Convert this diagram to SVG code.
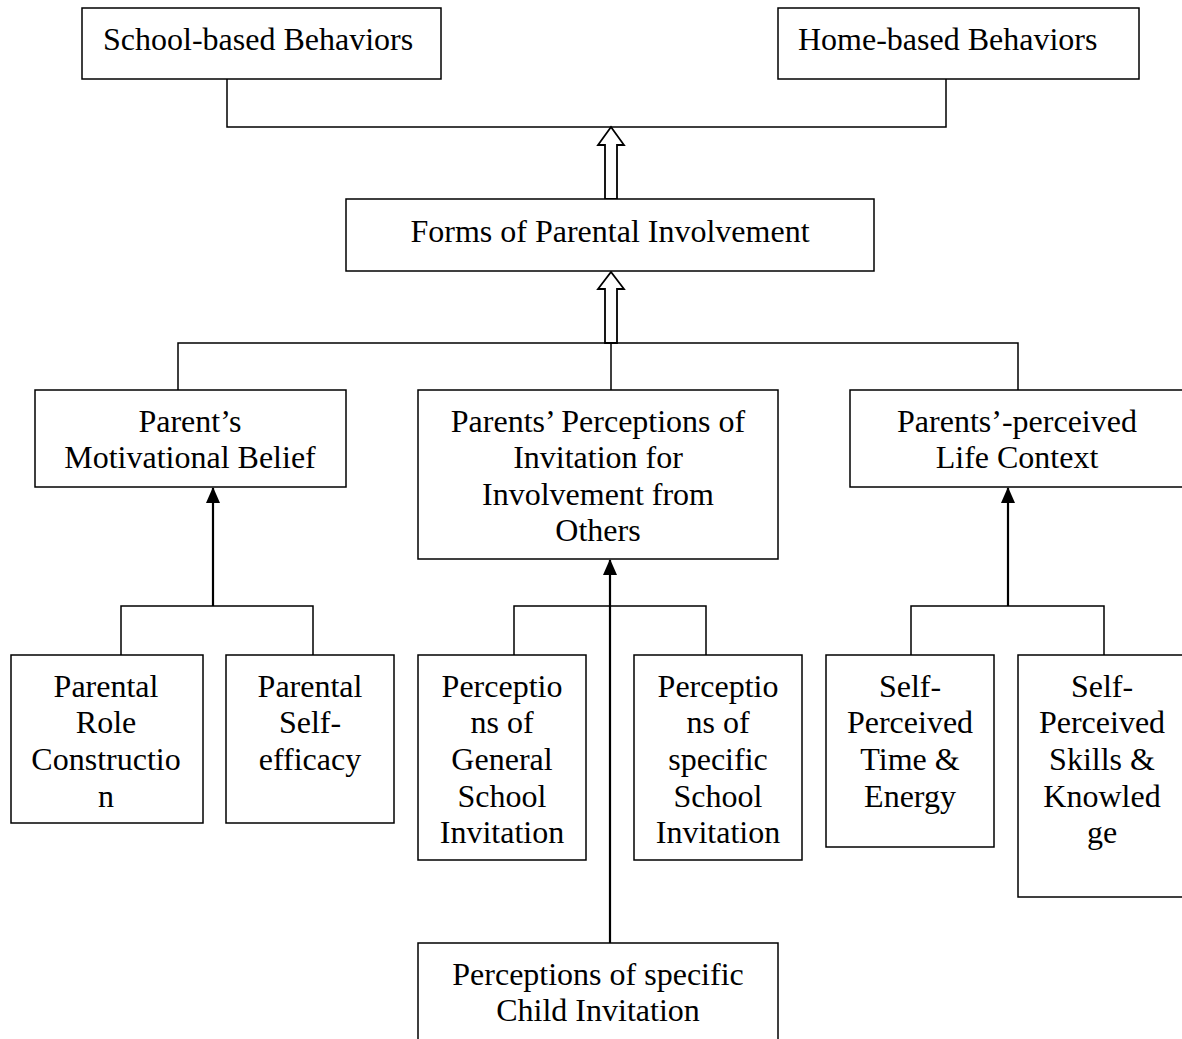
<svg xmlns="http://www.w3.org/2000/svg" width="1182" height="1039" viewBox="0 0 1182 1039">
<style>
.box{fill:#fff;stroke:#000;stroke-width:1.5}
.ln{fill:none;stroke:#000;stroke-width:1.5}
.ar{fill:none;stroke:#000;stroke-width:2.2}
.hol{fill:#fff;stroke:#000;stroke-width:1.8;stroke-linejoin:miter}
text{font-family:"Liberation Serif","Times New Roman",serif;font-size:32px;fill:#000}
.c{text-anchor:middle}
</style>
<defs>
<marker id="tri" markerWidth="16" markerHeight="14" viewBox="0 0 16 14" refX="15" refY="7" orient="auto" markerUnits="userSpaceOnUse">
<path d="M0,0 L16,7 L0,14 z" fill="#000"/>
</marker>
</defs>
<rect width="1182" height="1039" fill="#fff"/>
<g id="connectors">
<path class="ln" d="M227,79 V127 H946 V79"/>
<path class="hol" d="M605,199 V145 H598 L611,127 L624,145 H617 V199 Z"/>
<path class="ln" d="M178,390 V343 H1018 V390 M611,343 V390"/>
<path class="hol" d="M605,343 V289 H598 L611,272 L624,289 H617 V343 Z"/>
<path class="ln" d="M121,655 V606 H313 V655"/>
<path class="ar" d="M213,606 V488" marker-end="url(#tri)"/>
<path class="ln" d="M514,655 V606 H706 V655"/>
<path class="ar" d="M610,943 V560" marker-end="url(#tri)"/>
<path class="ln" d="M911,655 V606 H1104 V655"/>
<path class="ar" d="M1008,606 V488" marker-end="url(#tri)"/>
</g>
<g id="school">
<rect class="box" x="82" y="8" width="359" height="71"/>
<text x="103" y="50">School-based Behaviors</text>
</g>
<g id="home">
<rect class="box" x="778" y="8" width="361" height="71"/>
<text x="798" y="50">Home-based Behaviors</text>
</g>
<g id="forms">
<rect class="box" x="346" y="199" width="528" height="72"/>
<text class="c" x="610" y="242">Forms of Parental Involvement</text>
</g>
<g id="motivational">
<rect class="box" x="35" y="390" width="311" height="97"/>
<text class="c" x="190" y="432">Parent’s</text>
<text class="c" x="190" y="468">Motivational Belief</text>
</g>
<g id="invitation">
<rect class="box" x="418" y="390" width="360" height="169"/>
<text class="c" x="598" y="432">Parents’ Perceptions of</text>
<text class="c" x="598" y="468">Invitation for</text>
<text class="c" x="598" y="505">Involvement from</text>
<text class="c" x="598" y="541">Others</text>
</g>
<g id="lifecontext">
<rect class="box" x="850" y="390" width="336" height="97"/>
<text class="c" x="1017" y="432">Parents’-perceived</text>
<text class="c" x="1017" y="468">Life Context</text>
</g>
<g id="role">
<rect class="box" x="11" y="655" width="192" height="168"/>
<text class="c" x="106" y="697">Parental</text>
<text class="c" x="106" y="733">Role</text>
<text class="c" x="106" y="770">Constructio</text>
<text class="c" x="106" y="807">n</text>
</g>
<g id="selfefficacy">
<rect class="box" x="226" y="655" width="168" height="168"/>
<text class="c" x="310" y="697">Parental</text>
<text class="c" x="310" y="733">Self-</text>
<text class="c" x="310" y="770">efficacy</text>
</g>
<g id="general">
<rect class="box" x="418" y="655" width="168" height="205"/>
<text class="c" x="502" y="697">Perceptio</text>
<text class="c" x="502" y="733">ns of</text>
<text class="c" x="502" y="770">General</text>
<text class="c" x="502" y="807">School</text>
<text class="c" x="502" y="843">Invitation</text>
</g>
<g id="specific">
<rect class="box" x="634" y="655" width="168" height="205"/>
<text class="c" x="718" y="697">Perceptio</text>
<text class="c" x="718" y="733">ns of</text>
<text class="c" x="718" y="770">specific</text>
<text class="c" x="718" y="807">School</text>
<text class="c" x="718" y="843">Invitation</text>
</g>
<g id="child">
<rect class="box" x="418" y="943" width="360" height="100"/>
<text class="c" x="598" y="985">Perceptions of specific</text>
<text class="c" x="598" y="1021">Child Invitation</text>
</g>
<g id="time">
<rect class="box" x="826" y="655" width="168" height="192"/>
<text class="c" x="910" y="697">Self-</text>
<text class="c" x="910" y="733">Perceived</text>
<text class="c" x="910" y="770">Time &amp;</text>
<text class="c" x="910" y="807">Energy</text>
</g>
<g id="skills">
<rect class="box" x="1018" y="655" width="168" height="242"/>
<text class="c" x="1102" y="697">Self-</text>
<text class="c" x="1102" y="733">Perceived</text>
<text class="c" x="1102" y="770">Skills &amp;</text>
<text class="c" x="1102" y="807">Knowled</text>
<text class="c" x="1102" y="843">ge</text>
</g>
</svg>
